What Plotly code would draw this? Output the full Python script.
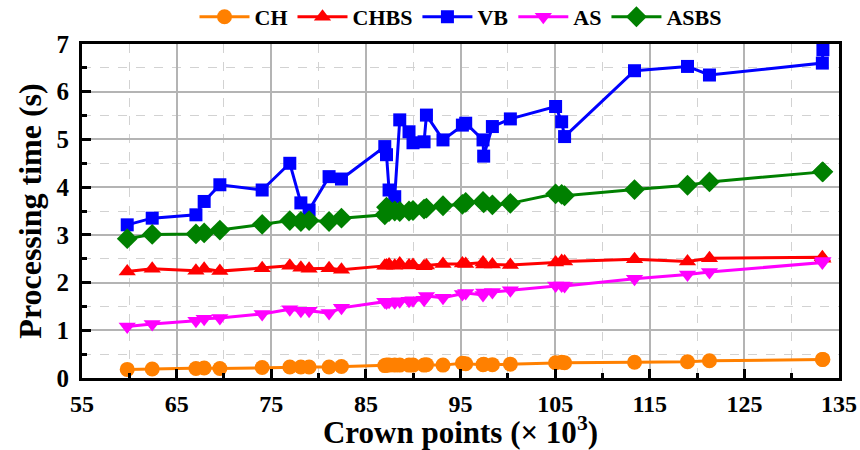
import plotly.graph_objects as go

crown_points = [59.78, 62.42, 67.04, 67.91, 69.57, 74.04, 76.96, 78.13, 79.00, 81.11, 82.42,
                87.00, 87.18, 87.45, 88.05, 88.58, 89.56, 89.98, 91.15, 91.40, 93.15,
                95.20, 95.55, 97.38, 97.45, 98.37, 100.27, 105.05, 105.69, 106.00,
                113.39, 118.99, 121.31, 133.24, 133.30]

ch = [0.18, 0.19, 0.20, 0.21, 0.20, 0.22, 0.23, 0.23, 0.23, 0.23, 0.24,
      0.26, 0.27, 0.27, 0.27, 0.27, 0.27, 0.27, 0.27, 0.28, 0.27,
      0.31, 0.30, 0.28, 0.29, 0.28, 0.29, 0.32, 0.33, 0.32,
      0.33, 0.34, 0.36, 0.39, 0.39]

chbs = [2.23, 2.29, 2.25, 2.29, 2.24, 2.30, 2.35, 2.31, 2.29, 2.30, 2.27,
        2.35, 2.36, 2.38, 2.35, 2.40, 2.36, 2.37, 2.34, 2.36, 2.39,
        2.40, 2.39, 2.42, 2.38, 2.38, 2.37, 2.42, 2.45, 2.44,
        2.49, 2.44, 2.51, 2.53, 2.50]

vb = [3.21, 3.35, 3.42, 3.70, 4.05, 3.94, 4.50, 3.67, 3.52, 4.22, 4.17,
      4.85, 4.68, 3.94, 3.80, 5.41, 5.16, 4.93, 4.95, 5.51, 4.99,
      5.30, 5.34, 4.99, 4.65, 5.27, 5.43, 5.69, 5.37, 5.06,
      6.44, 6.53, 6.35, 6.60, 6.88]

as_ = [1.08, 1.13, 1.20, 1.24, 1.26, 1.34, 1.44, 1.41, 1.41, 1.36, 1.47,
       1.60, 1.58, 1.60, 1.59, 1.61, 1.62, 1.63, 1.64, 1.72, 1.68,
       1.76, 1.78, 1.74, 1.79, 1.80, 1.84, 1.94, 1.94, 1.93,
       2.08, 2.17, 2.22, 2.42, 2.45]

asbs = [2.92, 3.01, 3.02, 3.04, 3.10, 3.22, 3.30, 3.28, 3.30, 3.28, 3.35,
        3.42, 3.58, 3.49, 3.50, 3.49, 3.50, 3.51, 3.54, 3.56, 3.61,
        3.64, 3.68, 3.70, 3.67, 3.63, 3.66, 3.86, 3.85, 3.82,
        3.95, 4.04, 4.11, 4.32, 4.32]

series = [
    ("CH", ch, "#FF8000", "circle", 15),
    ("CHBS", chbs, "#FF0000", "triangle-up", 15),
    ("VB", vb, "#0000FF", "square", 13),
    ("AS", as_, "#FF00FF", "triangle-down", 15),
    ("ASBS", asbs, "#008000", "diamond", 16),
]

FONT = "Liberation Serif"

fig = go.Figure()
for name, ys, color, sym, size in series:
    fig.add_trace(go.Scatter(
        x=crown_points, y=ys, name=name, mode="lines+markers",
        line=dict(color=color, width=3),
        marker=dict(symbol=sym, size=size, color=color, line=dict(width=0)),
    ))

axis_common = dict(
    showline=True, linecolor="black", linewidth=3, mirror=True,
    ticks="inside", ticklen=9, tickwidth=3, tickcolor="black",
    showgrid=True, gridcolor="#b4b4b4", gridwidth=1.5,
    zeroline=False, automargin=False,
)

fig.update_xaxes(
    **axis_common,
    tickfont=dict(family=FONT, size=24, color="black", weight="bold"),
    range=[55, 135], tick0=55, dtick=10, ticklabelstandoff=2,
    minor=dict(dtick=5, tick0=55, showgrid=True, griddash="dash", gridcolor="#d2d2d2",
               gridwidth=1, ticks="inside", ticklen=5, tickwidth=3, tickcolor="black"),
    title=dict(text="Crown points (× 10<sup>3</sup>)", standoff=3,
               font=dict(family=FONT, size=31, color="black", weight="bold")),
)
fig.update_yaxes(
    **axis_common,
    tickfont=dict(family=FONT, size=25, color="black", weight="bold"),
    range=[0, 7], tick0=0, dtick=1, ticklabelstandoff=5,
    minor=dict(dtick=0.5, tick0=0, showgrid=True, griddash="dash", gridcolor="#d2d2d2",
               gridwidth=1, ticks="inside", ticklen=5, tickwidth=3, tickcolor="black"),
    title=dict(text="Processing time (s)", standoff=6,
               font=dict(family=FONT, size=32, color="black", weight="bold")),
)

fig.update_layout(
    width=860, height=450,
    margin=dict(l=82, r=21, t=44, b=72, autoexpand=False),
    paper_bgcolor="white", plot_bgcolor="white",
    showlegend=True,
    legend=dict(orientation="h", x=0.5, xanchor="center", y=1.081, yanchor="middle",
                font=dict(family=FONT, size=22, color="black", weight="bold"),
                itemwidth=50, tracegroupgap=0, bgcolor="rgba(0,0,0,0)"),
)

fig.write_html("out.html")
